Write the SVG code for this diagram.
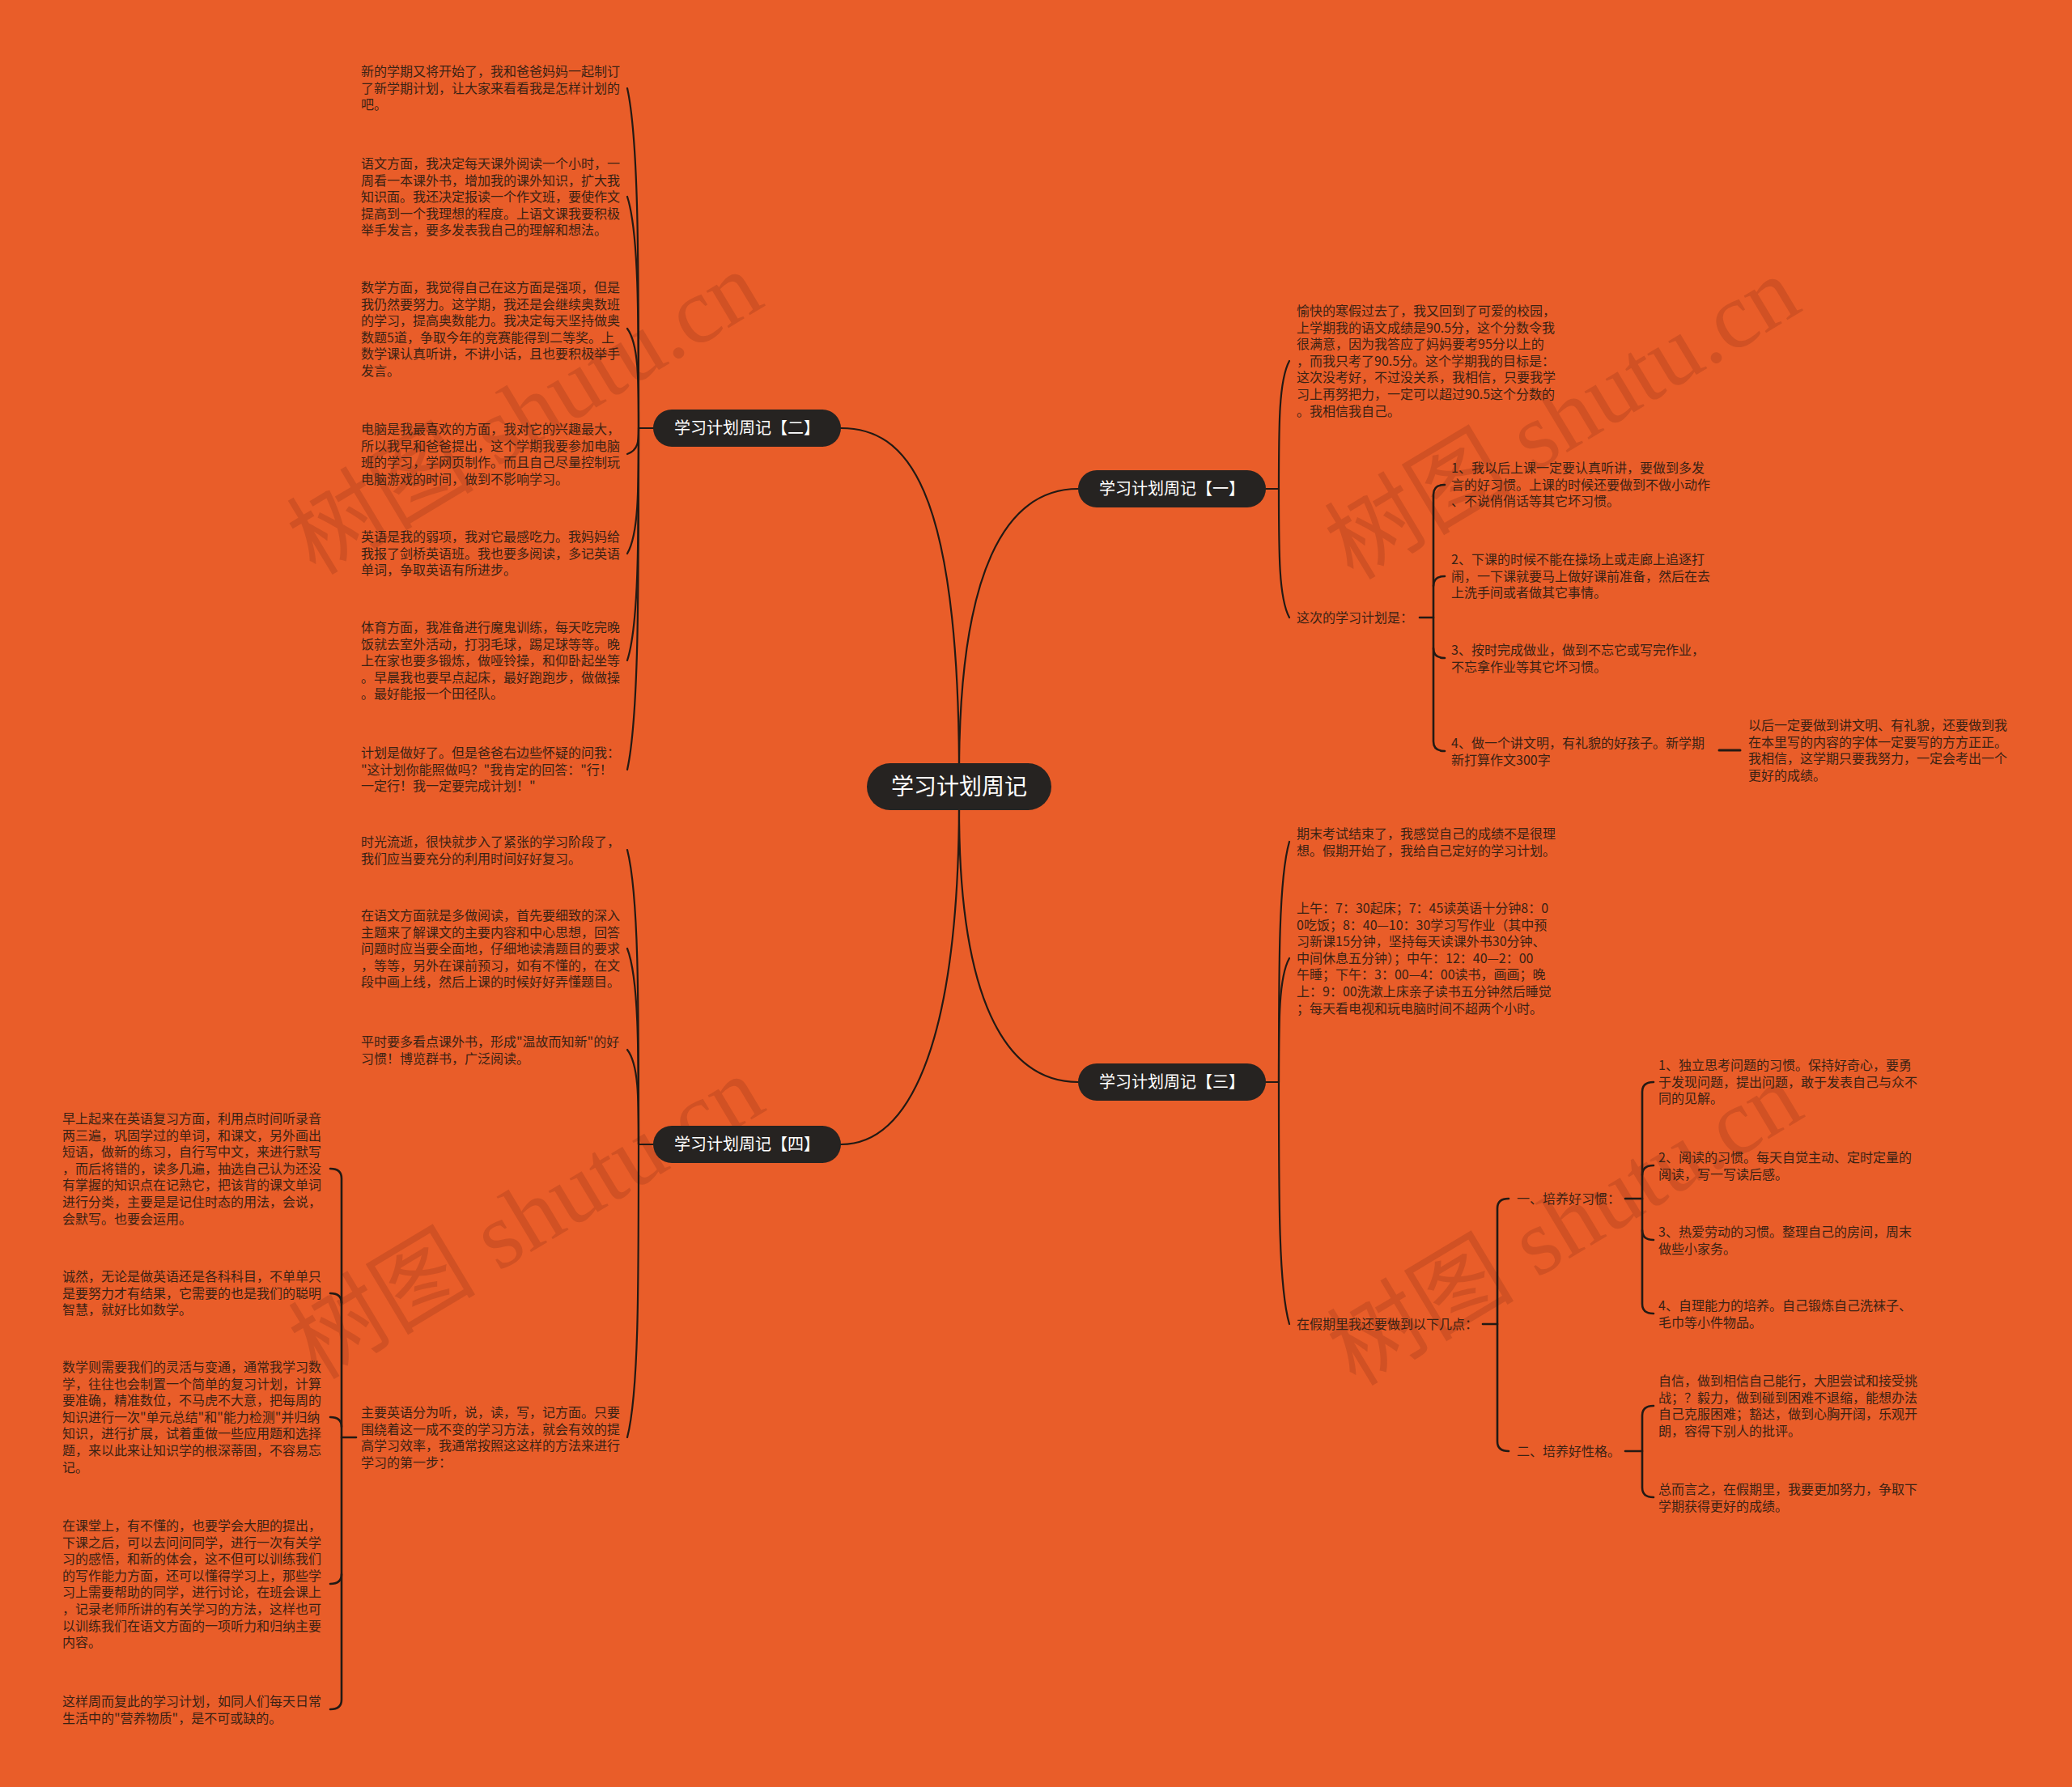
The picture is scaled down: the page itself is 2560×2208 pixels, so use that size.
<svg xmlns="http://www.w3.org/2000/svg" width="2560" height="2208" viewBox="0 0 2560 2208">
<style>
.bg{fill:#E95D29}
.c{fill:none;stroke:#231a14;stroke-width:2.2;stroke-linecap:round}
.b{fill:none;stroke:#231a14;stroke-width:2.6;stroke-linecap:round}
.pill{fill:#262321}
.nt{font-family:"Noto Sans CJK SC","Noto Sans",sans-serif;fill:#ffffff;text-anchor:middle}
.t{font-family:"Noto Sans CJK SC","Noto Sans",sans-serif;font-size:16px;fill:#3a2214}
.wm{font-family:"Liberation Serif","Noto Sans CJK SC",serif;font-size:116px;fill:#7a2a10;fill-opacity:0.22;text-anchor:middle}
</style>
<rect class="bg" x="0" y="0" width="2560" height="2208"/>

<g id="watermarks">
<text class="wm" transform="translate(648,510) rotate(-31)" y="40">树图 shutu.cn</text>
<text class="wm" transform="translate(1930,516) rotate(-31)" y="40">树图 shutu.cn</text>
<text class="wm" transform="translate(650,1504) rotate(-31)" y="40">树图 shutu.cn</text>
<text class="wm" transform="translate(1933,1512) rotate(-31)" y="40">树图 shutu.cn</text>
</g>

<g id="connectors">
<path class="c" d="M1039,529 C1120,529 1183,600 1185,943"/>
<path class="c" d="M1185,943 C1187,710 1240,604 1332,604"/>
<path class="c" d="M1185,1001 C1185,1230 1240,1337 1332,1337"/>
<path class="c" d="M1185,1001 C1183,1300 1120,1414 1039,1414"/>
<path class="c" d="M807,529 H789"/>
<path class="c" d="M789,529 C789,319 789,172 775,109"/>
<path class="c" d="M789,529 C789,386 789,286 775,243"/>
<path class="c" d="M789,529 C789,468 789,425 775,406"/>
<path class="c" d="M789,529 C789,545 789,556 775,561"/>
<path class="c" d="M789,529 C789,606 789,660 775,684"/>
<path class="c" d="M789,529 C789,672 789,773 775,816"/>
<path class="c" d="M789,529 C789,740 789,887 775,951"/>
<path class="c" d="M807,1414 H789"/>
<path class="c" d="M789,1414 C789,1232 789,1105 775,1050"/>
<path class="c" d="M789,1414 C789,1293 789,1208 775,1172"/>
<path class="c" d="M789,1414 C789,1356 789,1315 775,1297"/>
<path class="c" d="M789,1414 C789,1595 789,1722 775,1776"/>
<path class="c" d="M1564,604 H1580"/>
<path class="c" d="M1580,604 C1580,525 1580,470 1593,446"/>
<path class="c" d="M1580,604 C1580,684 1580,739 1593,763"/>
<path class="c" d="M1564,1337 H1580"/>
<path class="c" d="M1580,1337 C1580,1189 1580,1085 1593,1040"/>
<path class="c" d="M1580,1337 C1580,1260 1580,1207 1593,1184"/>
<path class="c" d="M1580,1337 C1580,1487 1580,1591 1593,1636"/>
<path class="b" d="M1754,763 H1771"/>
<path class="b" d="M1785,599 Q1771,599 1771,611 V916 Q1771,928 1785,928"/>
<path class="b" d="M1771,724 Q1771,712 1785,712"/>
<path class="b" d="M1771,801 Q1771,813 1785,813"/>
<path class="b" d="M2124,927 H2150" style="stroke-width:3"/>
<path class="b" d="M1832,1636 H1850"/>
<path class="b" d="M1864,1481 Q1850,1481 1850,1493 V1781 Q1850,1793 1864,1793"/>
<path class="b" d="M2008,1481 H2029"/>
<path class="b" d="M2043,1337 Q2029,1337 2029,1349 V1611 Q2029,1623 2043,1623"/>
<path class="b" d="M2029,1452 Q2029,1440 2043,1440"/>
<path class="b" d="M2029,1520 Q2029,1532 2043,1532"/>
<path class="b" d="M2008,1793 H2029"/>
<path class="b" d="M2043,1737 Q2029,1737 2029,1749 V1838 Q2029,1850 2043,1850"/>
<path class="b" d="M440,1776 H422"/>
<path class="b" d="M408,1444 Q422,1444 422,1456 V2100 Q422,2112 408,2112"/>
<path class="b" d="M422,1610 Q422,1598 408,1598"/>
<path class="b" d="M422,1763 Q422,1751 408,1751"/>
<path class="b" d="M422,1945 Q422,1957 408,1957"/>
</g>

<g id="root">
<rect class="pill" x="1071" y="943" width="228" height="58" rx="29"/>
<text class="nt" x="1185" y="982" font-size="28">学习计划周记</text>
</g>
<g id="n1">
<rect class="pill" x="1332" y="581" width="232" height="46" rx="23"/>
<text class="nt" x="1448" y="611" font-size="20">学习计划周记【一】</text>
</g>
<g id="n2">
<rect class="pill" x="807" y="506" width="232" height="46" rx="23"/>
<text class="nt" x="923" y="536" font-size="20">学习计划周记【二】</text>
</g>
<g id="n3">
<rect class="pill" x="1332" y="1314" width="232" height="46" rx="23"/>
<text class="nt" x="1448" y="1344" font-size="20">学习计划周记【三】</text>
</g>
<g id="n4">
<rect class="pill" x="807" y="1391" width="232" height="46" rx="23"/>
<text class="nt" x="923" y="1421" font-size="20">学习计划周记【四】</text>
</g>

<g id="n2-texts">
<text class="t" x="446" y="94"><tspan x="446">新的学期又将开始了，我和爸爸妈妈一起制订</tspan><tspan x="446" dy="20.6">了新学期计划，让大家来看看我是怎样计划的</tspan><tspan x="446" dy="20.6">吧。</tspan></text>
<text class="t" x="446" y="208"><tspan x="446">语文方面，我决定每天课外阅读一个小时，一</tspan><tspan x="446" dy="20.6">周看一本课外书，增加我的课外知识，扩大我</tspan><tspan x="446" dy="20.6">知识面。我还决定报读一个作文班，要使作文</tspan><tspan x="446" dy="20.6">提高到一个我理想的程度。上语文课我要积极</tspan><tspan x="446" dy="20.6">举手发言，要多发表我自己的理解和想法。</tspan></text>
<text class="t" x="446" y="361"><tspan x="446">数学方面，我觉得自己在这方面是强项，但是</tspan><tspan x="446" dy="20.6">我仍然要努力。这学期，我还是会继续奥数班</tspan><tspan x="446" dy="20.6">的学习，提高奥数能力。我决定每天坚持做奥</tspan><tspan x="446" dy="20.6">数题5道，争取今年的竞赛能得到二等奖。上</tspan><tspan x="446" dy="20.6">数学课认真听讲，不讲小话，且也要积极举手</tspan><tspan x="446" dy="20.6">发言。</tspan></text>
<text class="t" x="446" y="536"><tspan x="446">电脑是我最喜欢的方面，我对它的兴趣最大，</tspan><tspan x="446" dy="20.6">所以我早和爸爸提出，这个学期我要参加电脑</tspan><tspan x="446" dy="20.6">班的学习，学网页制作。而且自己尽量控制玩</tspan><tspan x="446" dy="20.6">电脑游戏的时间，做到不影响学习。</tspan></text>
<text class="t" x="446" y="669"><tspan x="446">英语是我的弱项，我对它最感吃力。我妈妈给</tspan><tspan x="446" dy="20.6">我报了剑桥英语班。我也要多阅读，多记英语</tspan><tspan x="446" dy="20.6">单词，争取英语有所进步。</tspan></text>
<text class="t" x="446" y="781"><tspan x="446">体育方面，我准备进行魔鬼训练，每天吃完晚</tspan><tspan x="446" dy="20.6">饭就去室外活动，打羽毛球，踢足球等等。晚</tspan><tspan x="446" dy="20.6">上在家也要多锻炼，做哑铃操，和仰卧起坐等</tspan><tspan x="446" dy="20.6">。早晨我也要早点起床，最好跑跑步，做做操</tspan><tspan x="446" dy="20.6">。最好能报一个田径队。</tspan></text>
<text class="t" x="446" y="936"><tspan x="446">计划是做好了。但是爸爸右边些怀疑的问我：</tspan><tspan x="446" dy="20.6">"这计划你能照做吗？"我肯定的回答："行！</tspan><tspan x="446" dy="20.6">一定行！我一定要完成计划！"</tspan></text>
</g>

<g id="n1-texts">
<text class="t" x="1602" y="390"><tspan x="1602">愉快的寒假过去了，我又回到了可爱的校园，</tspan><tspan x="1602" dy="20.6">上学期我的语文成绩是90.5分，这个分数令我</tspan><tspan x="1602" dy="20.6">很满意，因为我答应了妈妈要考95分以上的</tspan><tspan x="1602" dy="20.6">，而我只考了90.5分。这个学期我的目标是：</tspan><tspan x="1602" dy="20.6">这次没考好，不过没关系，我相信，只要我学</tspan><tspan x="1602" dy="20.6">习上再努把力，一定可以超过90.5这个分数的</tspan><tspan x="1602" dy="20.6">。我相信我自己。</tspan></text>
<text class="t" x="1602" y="769">这次的学习计划是：</text>
<text class="t" x="1793" y="584"><tspan x="1793">1、我以后上课一定要认真听讲，要做到多发</tspan><tspan x="1793" dy="20.6">言的好习惯。上课的时候还要做到不做小动作</tspan><tspan x="1793" dy="20.6">、不说俏俏话等其它坏习惯。</tspan></text>
<text class="t" x="1793" y="697"><tspan x="1793">2、下课的时候不能在操场上或走廊上追逐打</tspan><tspan x="1793" dy="20.6">闹，一下课就要马上做好课前准备，然后在去</tspan><tspan x="1793" dy="20.6">上洗手间或者做其它事情。</tspan></text>
<text class="t" x="1793" y="809"><tspan x="1793">3、按时完成做业，做到不忘它或写完作业，</tspan><tspan x="1793" dy="20.6">不忘拿作业等其它坏习惯。</tspan></text>
<text class="t" x="1793" y="924"><tspan x="1793">4、做一个讲文明，有礼貌的好孩子。新学期</tspan><tspan x="1793" dy="20.6">新打算作文300字</tspan></text>
<text class="t" x="2160" y="902"><tspan x="2160">以后一定要做到讲文明、有礼貌，还要做到我</tspan><tspan x="2160" dy="20.6">在本里写的内容的字体一定要写的方方正正。</tspan><tspan x="2160" dy="20.6">我相信，这学期只要我努力，一定会考出一个</tspan><tspan x="2160" dy="20.6">更好的成绩。</tspan></text>
</g>

<g id="n3-texts">
<text class="t" x="1602" y="1036"><tspan x="1602">期末考试结束了，我感觉自己的成绩不是很理</tspan><tspan x="1602" dy="20.6">想。假期开始了，我给自己定好的学习计划。</tspan></text>
<text class="t" x="1602" y="1128"><tspan x="1602">上午：7：30起床；7：45读英语十分钟8：0</tspan><tspan x="1602" dy="20.6">0吃饭；8：40—10：30学习写作业（其中预</tspan><tspan x="1602" dy="20.6">习新课15分钟，坚持每天读课外书30分钟、</tspan><tspan x="1602" dy="20.6">中间休息五分钟）；中午：12：40—2：00</tspan><tspan x="1602" dy="20.6">午睡；下午：3：00—4：00读书，画画；晚</tspan><tspan x="1602" dy="20.6">上：9：00洗漱上床亲子读书五分钟然后睡觉</tspan><tspan x="1602" dy="20.6">；每天看电视和玩电脑时间不超两个小时。</tspan></text>
<text class="t" x="1602" y="1642">在假期里我还要做到以下几点：</text>
<text class="t" x="1874" y="1487">一、培养好习惯：</text>
<text class="t" x="2049" y="1322"><tspan x="2049">1、独立思考问题的习惯。保持好奇心，要勇</tspan><tspan x="2049" dy="20.6">于发现问题，提出问题，敢于发表自己与众不</tspan><tspan x="2049" dy="20.6">同的见解。</tspan></text>
<text class="t" x="2049" y="1436"><tspan x="2049">2、阅读的习惯。每天自觉主动、定时定量的</tspan><tspan x="2049" dy="20.6">阅读，写一写读后感。</tspan></text>
<text class="t" x="2049" y="1528"><tspan x="2049">3、热爱劳动的习惯。整理自己的房间，周末</tspan><tspan x="2049" dy="20.6">做些小家务。</tspan></text>
<text class="t" x="2049" y="1619"><tspan x="2049">4、自理能力的培养。自己锻炼自己洗袜子、</tspan><tspan x="2049" dy="20.6">毛巾等小件物品。</tspan></text>
<text class="t" x="1874" y="1799">二、培养好性格。</text>
<text class="t" x="2049" y="1712"><tspan x="2049">自信，做到相信自己能行，大胆尝试和接受挑</tspan><tspan x="2049" dy="20.6">战；？毅力，做到碰到困难不退缩，能想办法</tspan><tspan x="2049" dy="20.6">自己克服困难；豁达，做到心胸开阔，乐观开</tspan><tspan x="2049" dy="20.6">朗，容得下别人的批评。</tspan></text>
<text class="t" x="2049" y="1846"><tspan x="2049">总而言之，在假期里，我要更加努力，争取下</tspan><tspan x="2049" dy="20.6">学期获得更好的成绩。</tspan></text>
</g>

<g id="n4-texts">
<text class="t" x="446" y="1046"><tspan x="446">时光流逝，很快就步入了紧张的学习阶段了，</tspan><tspan x="446" dy="20.6">我们应当要充分的利用时间好好复习。</tspan></text>
<text class="t" x="446" y="1137"><tspan x="446">在语文方面就是多做阅读，首先要细致的深入</tspan><tspan x="446" dy="20.6">主题来了解课文的主要内容和中心思想，回答</tspan><tspan x="446" dy="20.6">问题时应当要全面地，仔细地读清题目的要求</tspan><tspan x="446" dy="20.6">，等等，另外在课前预习，如有不懂的，在文</tspan><tspan x="446" dy="20.6">段中画上线，然后上课的时候好好弄懂题目。</tspan></text>
<text class="t" x="446" y="1293"><tspan x="446">平时要多看点课外书，形成"温故而知新"的好</tspan><tspan x="446" dy="20.6">习惯！博览群书，广泛阅读。</tspan></text>
<text class="t" x="446" y="1751"><tspan x="446">主要英语分为听，说，读，写，记方面。只要</tspan><tspan x="446" dy="20.6">围绕着这一成不变的学习方法，就会有效的提</tspan><tspan x="446" dy="20.6">高学习效率，我通常按照这这样的方法来进行</tspan><tspan x="446" dy="20.6">学习的第一步：</tspan></text>
<text class="t" x="77" y="1388"><tspan x="77">早上起来在英语复习方面，利用点时间听录音</tspan><tspan x="77" dy="20.6">两三遍，巩固学过的单词，和课文，另外画出</tspan><tspan x="77" dy="20.6">短语，做新的练习，自行写中文，来进行默写</tspan><tspan x="77" dy="20.6">，而后将错的，读多几遍，抽选自己认为还没</tspan><tspan x="77" dy="20.6">有掌握的知识点在记熟它，把该背的课文单词</tspan><tspan x="77" dy="20.6">进行分类，主要是是记住时态的用法，会说，</tspan><tspan x="77" dy="20.6">会默写。也要会运用。</tspan></text>
<text class="t" x="77" y="1583"><tspan x="77">诚然，无论是做英语还是各科科目，不单单只</tspan><tspan x="77" dy="20.6">是要努力才有结果，它需要的也是我们的聪明</tspan><tspan x="77" dy="20.6">智慧，就好比如数学。</tspan></text>
<text class="t" x="77" y="1695"><tspan x="77">数学则需要我们的灵活与变通，通常我学习数</tspan><tspan x="77" dy="20.6">学，往往也会制置一个简单的复习计划，计算</tspan><tspan x="77" dy="20.6">要准确，精准数位，不马虎不大意，把每周的</tspan><tspan x="77" dy="20.6">知识进行一次"单元总结"和"能力检测"并归纳</tspan><tspan x="77" dy="20.6">知识，进行扩展，试着重做一些应用题和选择</tspan><tspan x="77" dy="20.6">题，来以此来让知识学的根深蒂固，不容易忘</tspan><tspan x="77" dy="20.6">记。</tspan></text>
<text class="t" x="77" y="1891"><tspan x="77">在课堂上，有不懂的，也要学会大胆的提出，</tspan><tspan x="77" dy="20.6">下课之后，可以去问问同学，进行一次有关学</tspan><tspan x="77" dy="20.6">习的感悟，和新的体会，这不但可以训练我们</tspan><tspan x="77" dy="20.6">的写作能力方面，还可以懂得学习上，那些学</tspan><tspan x="77" dy="20.6">习上需要帮助的同学，进行讨论，在班会课上</tspan><tspan x="77" dy="20.6">，记录老师所讲的有关学习的方法，这样也可</tspan><tspan x="77" dy="20.6">以训练我们在语文方面的一项听力和归纳主要</tspan><tspan x="77" dy="20.6">内容。</tspan></text>
<text class="t" x="77" y="2108"><tspan x="77">这样周而复此的学习计划，如同人们每天日常</tspan><tspan x="77" dy="20.6">生活中的"营养物质"，是不可或缺的。</tspan></text>
</g>
</svg>
